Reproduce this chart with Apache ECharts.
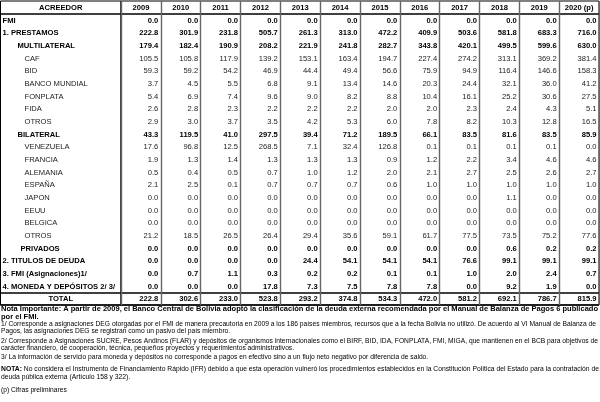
<!DOCTYPE html>
<html><head><meta charset="utf-8">
<script src="https://cdn.jsdelivr.net/npm/echarts@6/dist/echarts.min.js"></script>
<style>html,body{margin:0;padding:0;background:#fff}#c{width:600px;height:402px}</style>
</head><body><div id="c"></div>
<script>
// ---------- DATA ----------
const headerLabel = 'ACREEDOR';
const years = ['2009','2010','2011','2012','2013','2014','2015','2016','2017','2018','2019','2020 (p)'];
const rowLabels = ['FMI','1. PRESTAMOS','MULTILATERAL','CAF','BID','BANCO MUNDIAL','FONPLATA','FIDA','OTROS',
  'BILATERAL','VENEZUELA','FRANCIA','ALEMANIA','ESPAÑA','JAPON','EEUU','BELGICA','OTROS','PRIVADOS',
  '2. TITULOS DE DEUDA','3. FMI (Asignaciones)1/','4. MONEDA Y DEPÓSITOS 2/ 3/','TOTAL'];
const fmi          = [0.0,0.0,0.0,0.0,0.0,0.0,0.0,0.0,0.0,0.0,0.0,0.0];
const prestamos    = [222.8,301.9,231.8,505.7,261.3,313.0,472.2,409.9,503.6,581.8,683.3,716.0];
const multilateral = [179.4,182.4,190.9,208.2,221.9,241.8,282.7,343.8,420.1,499.5,599.6,630.0];
const caf          = [105.5,105.8,117.9,139.2,153.1,163.4,194.7,227.4,274.2,313.1,369.2,381.4];
const bid          = [59.3,59.2,54.2,46.9,44.4,49.4,56.6,75.9,94.9,116.4,146.6,158.3];
const bancoMundial = [3.7,4.5,5.5,6.8,9.1,13.4,14.6,20.3,24.4,32.1,36.0,41.2];
const fonplata     = [5.4,6.9,7.4,9.6,9.0,8.2,8.8,10.4,16.1,25.2,30.6,27.5];
const fida         = [2.6,2.8,2.3,2.2,2.2,2.2,2.0,2.0,2.3,2.4,4.3,5.1];
const otrosMulti   = [2.9,3.0,3.7,3.5,4.2,5.3,6.0,7.8,8.2,10.3,12.8,16.5];
const bilateral    = [43.3,119.5,41.0,297.5,39.4,71.2,189.5,66.1,83.5,81.6,83.5,85.9];
const venezuela    = [17.6,96.8,12.5,268.5,7.1,32.4,126.8,0.1,0.1,0.1,0.1,0.0];
const francia      = [1.9,1.3,1.4,1.3,1.3,1.3,0.9,1.2,2.2,3.4,4.6,4.6];
const alemania     = [0.5,0.4,0.5,0.7,1.0,1.2,2.0,2.1,2.7,2.5,2.6,2.7];
const espana       = [2.1,2.5,0.1,0.7,0.7,0.7,0.6,1.0,1.0,1.0,1.0,1.0];
const japon        = [0.0,0.0,0.0,0.0,0.0,0.0,0.0,0.0,0.0,1.1,0.0,0.0];
const eeuu         = [0.0,0.0,0.0,0.0,0.0,0.0,0.0,0.0,0.0,0.0,0.0,0.0];
const belgica      = [0.0,0.0,0.0,0.0,0.0,0.0,0.0,0.0,0.0,0.0,0.0,0.0];
const otrosBilat   = [21.2,18.5,26.5,26.4,29.4,35.6,59.1,61.7,77.5,73.5,75.2,77.6];
const privados     = [0.0,0.0,0.0,0.0,0.0,0.0,0.0,0.0,0.0,0.6,0.2,0.2];
const titulos      = [0.0,0.0,0.0,0.0,24.4,54.1,54.1,54.1,76.6,99.1,99.1,99.1];
const fmiAsig      = [0.0,0.7,1.1,0.3,0.2,0.2,0.1,0.1,1.0,2.0,2.4,0.7];
const moneda       = [0.0,0.0,0.0,17.8,7.3,7.5,7.8,7.8,0.0,9.2,1.9,0.0];
const total        = [222.8,302.6,233.0,523.8,293.2,374.8,534.3,472.0,581.2,692.1,786.7,815.9];
const rowValues = [fmi,prestamos,multilateral,caf,bid,bancoMundial,fonplata,fida,otrosMulti,
  bilateral,venezuela,francia,alemania,espana,japon,eeuu,belgica,otrosBilat,privados,
  titulos,fmiAsig,moneda,total];

const noteBold = ['Nota Importante: A partir de 2009, el Banco Central de Bolivia adoptó la clasificación de la deuda externa recomendada por el Manual de Balanza de Pagos 6 publicado',
  'por el FMI.'];
const note1 = ['1/ Corresponde a asignaciones DEG otorgadas por el FMI de manera precautoria en 2009 a los 186 países miembros, recursos que a la fecha Bolivia no utilizó. De acuerdo al VI Manual de Balanza de',
  'Pagos, las asignaciones DEG se registran como un pasivo del país miembro.'];
const note2 = ['2/ Corresponde a Asignaciones SUCRE, Pesos Andinos (FLAR) y depósitos de organismos internacionales como el BIRF, BID, IDA, FONPLATA, FMI, MIGA, que mantienen en el BCB para objetivos de',
  'carácter financiero, de cooperación, técnica, pequeños proyectos y requerimientos administrativos.'];
const note3 = ['3/ La información de servicio para moneda y depósitos no corresponde a pagos en efectivo sino a un flujo neto negativo por diferencia de saldo.'];
const noteNotaHead = 'NOTA:';
const noteNota = [' No considera el Instrumento de Financiamiento Rápido (IFR) debido a que esta operación vulneró los procedimientos establecidos en la Constitución Política del Estado para la contratación de',
  'deuda pública externa (Artículo 158 y 322).'];
const notePrelim = '(p) Cifras preliminares';

// ---------- RENDER ----------
const FAM = '"Liberation Sans", Arial, sans-serif';
const level1 = new Set(['MULTILATERAL','BILATERAL','PRIVADOS']);
function levelOf(r){ // r: data row index
  const n = rowLabels[r];
  if (level1.has(n)) return 1;
  if (n === 'FMI' || n === 'TOTAL' || /^\d\./.test(n)) return 0;
  return 2;
}
const TS = 7.6; // table font size
const yCats = [headerLabel].concat(rowLabels);

const labelData = yCats.map((_, i) => [0, i]);
const headData = years.map((_, c) => [c, 0]);
const cellData = [];
rowValues.forEach((arr, r) => arr.forEach((v, c) => cellData.push([c, r + 1, v])));

const grid = { show: true, borderColor: '#000', borderWidth: 1, backgroundColor: 'transparent', top: 1, height: 304 };
const chart = echarts.init(document.getElementById('c'));
const hSplit = { show: true, interval: (idx) => idx === 1 || idx === 23, lineStyle: { color: '#000', width: 1.6 } };

const ctx = document.createElement('canvas').getContext('2d');
function w(text, font){ ctx.font = font; return ctx.measureText(text).width; }

const graphics = [];
function addLines(lines, ys, size, weight, target, head, fixedScale){
  const fontB = 'bold ' + size + 'px ' + FAM;
  const font = weight + ' ' + size + 'px ' + FAM;
  const first = w(lines[0], font) + (head ? w(head, fontB) : 0);
  const sx = fixedScale || Math.min(1.2, target / first);
  lines.forEach((t, i) => {
    const useHead = head && i === 0;
    graphics.push({ type: 'text', x: 1, y: ys[i], scaleX: sx, silent: true,
      style: { text: useHead ? '{h|' + head + '}' + t : t, font: font, fill: '#000', textVerticalAlign: 'middle',
        rich: useHead ? { h: { font: fontB, fill: '#000' } } : undefined } });
  });
  return sx;
}
addLines(noteBold, [308.5, 316.5], 8.0, 'bold', 597);
const smallScale = addLines(note1, [324, 331.5], 6.4, 'normal', 595);
addLines(note2, [341, 348.5], 6.4, 'normal', 597);
addLines(note3, [357], 6.4, 'normal', 0, null, smallScale);
addLines(noteNota, [369.5, 377], 6.4, 'normal', 598, noteNotaHead);
addLines([notePrelim], [390], 6.4, 'normal', 0, null, smallScale);

const option = {
  animation: false,
  backgroundColor: '#fff',
  grid: [
    Object.assign({ left: 0.5, width: 120.5 }, grid),
    Object.assign({ left: 121, right: 1 }, grid)
  ],
  xAxis: [
    { type: 'category', gridIndex: 0, data: ['a'], axisLine: { show: false }, axisTick: { show: false }, axisLabel: { show: false }, splitLine: { show: false } },
    { type: 'category', gridIndex: 1, data: years, axisLine: { show: false }, axisTick: { show: false }, axisLabel: { show: false },
      splitLine: { show: true, interval: 0, lineStyle: { color: '#666', width: 1.4 } } }
  ],
  yAxis: [
    { type: 'category', gridIndex: 0, inverse: true, data: yCats, axisLine: { show: false }, axisTick: { show: false }, axisLabel: { show: false }, splitLine: hSplit },
    { type: 'category', gridIndex: 1, inverse: true, data: yCats, axisLine: { show: false }, axisTick: { show: false }, axisLabel: { show: false }, splitLine: hSplit }
  ],
  series: [
    { type: 'custom', xAxisIndex: 0, yAxisIndex: 0, silent: true, data: labelData,
      renderItem: (params, api) => {
        const i = api.value(1);
        const p = api.coord([0, i]); const s = api.size([1, 1]);
        let x, align = 'left', bold = true, fill = '#000';
        if (i === 0 || yCats[i] === 'TOTAL') { x = p[0]; align = 'center'; }
        else {
          const lv = levelOf(i - 1);
          x = p[0] - s[0] / 2 + (lv === 0 ? 2 : lv === 1 ? (yCats[i] === 'PRIVADOS' ? 20 : 17) : 24);
          if (lv === 2) { bold = false; fill = '#222'; }
        }
        return { type: 'text', x: x, y: p[1] + 0.5, style: { text: yCats[i], fill: fill, textAlign: align, textVerticalAlign: 'middle',
          font: (bold ? 'bold ' : '') + TS + 'px ' + FAM } };
      } },
    { type: 'custom', xAxisIndex: 1, yAxisIndex: 1, silent: true, data: headData,
      renderItem: (params, api) => {
        const c = api.value(0);
        const p = api.coord([c, 0]);
        return { type: 'text', x: p[0], y: p[1] + 0.5, style: { text: years[c], fill: '#000', textAlign: 'center', textVerticalAlign: 'middle',
          font: 'bold ' + TS + 'px ' + FAM } };
      } },
    { type: 'custom', xAxisIndex: 1, yAxisIndex: 1, silent: true, data: cellData,
      renderItem: (params, api) => {
        const c = api.value(0), r = api.value(1), v = api.value(2);
        const p = api.coord([c, r]); const s = api.size([1, 1]);
        const bold = levelOf(r - 1) !== 2;
        return { type: 'text', x: p[0] + s[0] / 2 - 2.5, y: p[1] + 0.5, style: { text: v.toFixed(1), fill: bold ? '#000' : '#222',
          textAlign: 'right', textVerticalAlign: 'middle', font: (bold ? 'bold ' : '') + TS + 'px ' + FAM } };
      } }
  ],
  graphic: graphics
};
chart.setOption(option);
</script></body></html>
